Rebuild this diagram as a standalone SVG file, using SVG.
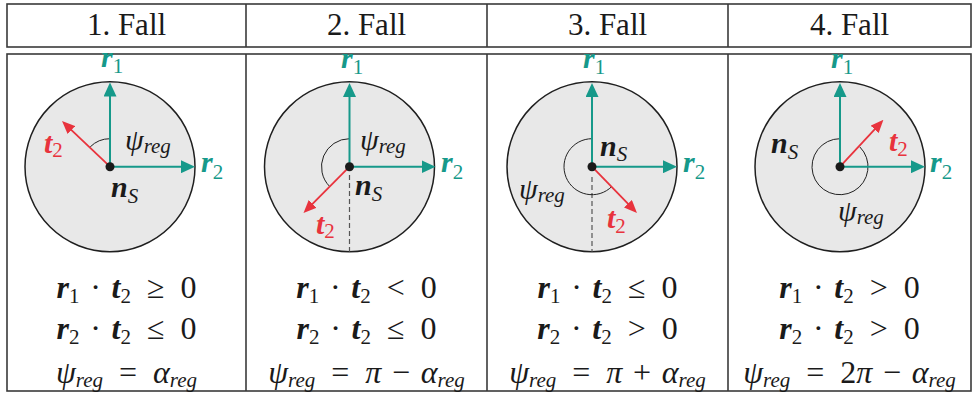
<svg xmlns="http://www.w3.org/2000/svg" width="974" height="396" viewBox="0 0 974 396">
<defs>
<style>
.frame{fill:none;stroke:#3a3a3a;stroke-width:1.6}
.hdr{font-family:"Liberation Serif",serif;font-size:31px;fill:#1a1a1a;text-anchor:middle}
.disc{fill:#e8e8e8;stroke:#1f1f1f;stroke-width:1.5}
.dot{fill:#1a1a1a}
.teal{fill:#16998a}
.red{fill:#e8333d}
.blk{fill:#1a1a1a}
.va{fill:none;stroke:#16998a;stroke-width:2}
.vr{fill:none;stroke:#e8333d;stroke-width:1.8}
.arc{fill:none;stroke:#222;stroke-width:1}
.dash{fill:none;stroke:#555;stroke-width:1.2;stroke-dasharray:5 3}
.lab{font-family:"Liberation Serif",serif;font-size:30px}
.v{font-weight:bold;font-style:italic}
.s{font-size:21px;font-style:normal;font-weight:normal}
.si{font-size:21px;font-style:italic;font-weight:normal}
.gi{font-style:italic}
.m{font-family:"Liberation Serif",serif;font-size:32px;fill:#1a1a1a;text-anchor:middle;white-space:pre}
.ms{font-size:21px;font-style:normal;font-weight:normal}
.msi{font-size:21px;font-style:italic;font-weight:normal}
</style>
<marker id="ht" markerUnits="userSpaceOnUse" markerWidth="14" markerHeight="13" refX="10" refY="6.5" orient="auto"><path d="M0,0 L14,6.5 L0,13 z" fill="#16998a"/></marker>
<marker id="hr" markerUnits="userSpaceOnUse" markerWidth="13" markerHeight="11" refX="9" refY="5.5" orient="auto"><path d="M0,0 L13,5.5 L0,11 z" fill="#e8333d"/></marker>
</defs>
<rect width="974" height="396" fill="#fff"/>

<g id="table">
<rect class="frame" x="7" y="4" width="964" height="43"/>
<line class="frame" x1="246" y1="4" x2="246" y2="47"/>
<line class="frame" x1="487" y1="4" x2="487" y2="47"/>
<line class="frame" x1="728" y1="4" x2="728" y2="47"/>
<rect class="frame" x="7" y="54" width="964" height="337"/>
<line class="frame" x1="246" y1="54" x2="246" y2="391"/>
<line class="frame" x1="487" y1="54" x2="487" y2="391"/>
<line class="frame" x1="728" y1="54" x2="728" y2="391"/>
<text class="hdr" x="126.5" y="35">1. Fall</text>
<text class="hdr" x="366.5" y="35">2. Fall</text>
<text class="hdr" x="607.5" y="35">3. Fall</text>
<text class="hdr" x="849.5" y="35">4. Fall</text>
</g>

<g id="fall1">
<circle class="disc" cx="110" cy="166.7" r="85"/>
<path class="arc" d="M110,138.7 A28,28 0 0 0 90.2,146.9"/>
<text class="lab blk" x="125" y="150"><tspan class="gi">ψ</tspan><tspan class="si" dy="3">reg</tspan></text>
<text class="lab teal" x="101" y="67"><tspan class="v">r</tspan><tspan class="s" dy="6">1</tspan></text>
<text class="lab teal" x="201" y="172"><tspan class="v">r</tspan><tspan class="s" dy="7">2</tspan></text>
<text class="lab red" x="44" y="153"><tspan class="v">t</tspan><tspan class="s" dy="4">2</tspan></text>
<text class="lab blk" x="111" y="197"><tspan class="v">n</tspan><tspan class="si" dy="6">S</tspan></text>
</g>

<g id="fall2">
<circle class="disc" cx="349.5" cy="166.7" r="85"/>
<line class="dash" x1="349.5" y1="175" x2="349.5" y2="251.7"/>
<path class="arc" d="M349.5,138.7 A28,28 0 0 0 329.7,186.5"/>
<text class="lab blk" x="360" y="150"><tspan class="gi">ψ</tspan><tspan class="si" dy="3">reg</tspan></text>
<text class="lab teal" x="341" y="68"><tspan class="v">r</tspan><tspan class="s" dy="6">1</tspan></text>
<text class="lab teal" x="441" y="172"><tspan class="v">r</tspan><tspan class="s" dy="7">2</tspan></text>
<text class="lab red" x="316" y="234"><tspan class="v">t</tspan><tspan class="s" dy="4">2</tspan></text>
<text class="lab blk" x="355" y="195"><tspan class="v">n</tspan><tspan class="si" dy="6">S</tspan></text>
</g>

<g id="fall3">
<circle class="disc" cx="592" cy="166.7" r="85"/>
<line class="dash" x1="592" y1="177" x2="592" y2="251.7"/>
<path class="arc" d="M592,138.7 A28,28 0 1 0 611.8,186.5"/>
<text class="lab blk" x="519" y="199"><tspan class="gi">ψ</tspan><tspan class="si" dy="3">reg</tspan></text>
<text class="lab teal" x="583" y="68"><tspan class="v">r</tspan><tspan class="s" dy="6">1</tspan></text>
<text class="lab teal" x="683" y="172"><tspan class="v">r</tspan><tspan class="s" dy="7">2</tspan></text>
<text class="lab red" x="607" y="228"><tspan class="v">t</tspan><tspan class="s" dy="5">2</tspan></text>
<text class="lab blk" x="600" y="156"><tspan class="v">n</tspan><tspan class="si" dy="5">S</tspan></text>
</g>

<g id="fall4">
<circle class="disc" cx="840" cy="166.7" r="85"/>
<path class="arc" d="M840,138.7 A28,28 0 1 0 859.8,146.9"/>
<text class="lab blk" x="838" y="221"><tspan class="gi">ψ</tspan><tspan class="si" dy="3">reg</tspan></text>
<text class="lab teal" x="831" y="68"><tspan class="v">r</tspan><tspan class="s" dy="6">1</tspan></text>
<text class="lab teal" x="930" y="172"><tspan class="v">r</tspan><tspan class="s" dy="7">2</tspan></text>
<text class="lab red" x="889" y="151"><tspan class="v">t</tspan><tspan class="s" dy="5">2</tspan></text>
<text class="lab blk" x="771" y="153"><tspan class="v">n</tspan><tspan class="si" dy="6">S</tspan></text>
</g>

<g id="connectors">
<line class="va" x1="110" y1="166.7" x2="110" y2="86.5" marker-end="url(#ht)"/>
<line class="va" x1="110" y1="166.7" x2="191" y2="166.7" marker-end="url(#ht)"/>
<line class="vr" x1="110" y1="166.7" x2="64.9" y2="123.8" marker-end="url(#hr)"/>
<line class="va" x1="349.5" y1="166.7" x2="349.5" y2="87" marker-end="url(#ht)"/>
<line class="va" x1="349.5" y1="166.7" x2="431.5" y2="166.7" marker-end="url(#ht)"/>
<line class="vr" x1="349.5" y1="166.7" x2="306.3" y2="210.2" marker-end="url(#hr)"/>
<line class="va" x1="592" y1="166.7" x2="592" y2="87" marker-end="url(#ht)"/>
<line class="va" x1="592" y1="166.7" x2="673" y2="166.7" marker-end="url(#ht)"/>
<line class="vr" x1="592" y1="166.7" x2="634.2" y2="210.2" marker-end="url(#hr)"/>
<line class="va" x1="840" y1="166.7" x2="840" y2="87" marker-end="url(#ht)"/>
<line class="va" x1="840" y1="166.7" x2="921" y2="166.7" marker-end="url(#ht)"/>
<line class="vr" x1="840" y1="166.7" x2="880.7" y2="122.8" marker-end="url(#hr)"/>
<circle class="dot" cx="110" cy="166.7" r="4.5"/>
<circle class="dot" cx="349.5" cy="166.7" r="4.5"/>
<circle class="dot" cx="592" cy="166.7" r="4.5"/>
<circle class="dot" cx="840" cy="166.7" r="4.5"/>
</g>

<g id="conditions">
<text class="m" x="126.5" y="298"><tspan class="v">r</tspan><tspan class="ms" dy="5">1</tspan><tspan dy="-5">&#8196;·&#8196;</tspan><tspan class="v">t</tspan><tspan class="ms" dy="5">2</tspan><tspan dy="-5">&#8194;≥&#8194;0</tspan></text>
<text class="m" x="126.5" y="339"><tspan class="v">r</tspan><tspan class="ms" dy="5">2</tspan><tspan dy="-5">&#8196;·&#8196;</tspan><tspan class="v">t</tspan><tspan class="ms" dy="5">2</tspan><tspan dy="-5">&#8194;≤&#8194;0</tspan></text>
<text class="m" x="126.5" y="383"><tspan class="gi">ψ</tspan><tspan class="msi" dy="4">reg</tspan><tspan dy="-4">&#8194;=&#8194;</tspan><tspan class="gi">α</tspan><tspan class="msi" dy="4">reg</tspan></text>

<text class="m" x="366.5" y="298"><tspan class="v">r</tspan><tspan class="ms" dy="5">1</tspan><tspan dy="-5">&#8196;·&#8196;</tspan><tspan class="v">t</tspan><tspan class="ms" dy="5">2</tspan><tspan dy="-5">&#8194;&lt;&#8194;0</tspan></text>
<text class="m" x="366.5" y="339"><tspan class="v">r</tspan><tspan class="ms" dy="5">2</tspan><tspan dy="-5">&#8196;·&#8196;</tspan><tspan class="v">t</tspan><tspan class="ms" dy="5">2</tspan><tspan dy="-5">&#8194;≤&#8194;0</tspan></text>
<text class="m" x="366.5" y="383"><tspan class="gi">ψ</tspan><tspan class="msi" dy="4">reg</tspan><tspan dy="-4">&#8194;=&#8194;</tspan><tspan class="gi">π</tspan><tspan>&#8196;−&#8196;</tspan><tspan class="gi">α</tspan><tspan class="msi" dy="4">reg</tspan></text>

<text class="m" x="607.5" y="298"><tspan class="v">r</tspan><tspan class="ms" dy="5">1</tspan><tspan dy="-5">&#8196;·&#8196;</tspan><tspan class="v">t</tspan><tspan class="ms" dy="5">2</tspan><tspan dy="-5">&#8194;≤&#8194;0</tspan></text>
<text class="m" x="607.5" y="339"><tspan class="v">r</tspan><tspan class="ms" dy="5">2</tspan><tspan dy="-5">&#8196;·&#8196;</tspan><tspan class="v">t</tspan><tspan class="ms" dy="5">2</tspan><tspan dy="-5">&#8194;&gt;&#8194;0</tspan></text>
<text class="m" x="607.5" y="383"><tspan class="gi">ψ</tspan><tspan class="msi" dy="4">reg</tspan><tspan dy="-4">&#8194;=&#8194;</tspan><tspan class="gi">π</tspan><tspan>&#8196;+&#8196;</tspan><tspan class="gi">α</tspan><tspan class="msi" dy="4">reg</tspan></text>

<text class="m" x="849.5" y="298"><tspan class="v">r</tspan><tspan class="ms" dy="5">1</tspan><tspan dy="-5">&#8196;·&#8196;</tspan><tspan class="v">t</tspan><tspan class="ms" dy="5">2</tspan><tspan dy="-5">&#8194;&gt;&#8194;0</tspan></text>
<text class="m" x="849.5" y="339"><tspan class="v">r</tspan><tspan class="ms" dy="5">2</tspan><tspan dy="-5">&#8196;·&#8196;</tspan><tspan class="v">t</tspan><tspan class="ms" dy="5">2</tspan><tspan dy="-5">&#8194;&gt;&#8194;0</tspan></text>
<text class="m" x="849.5" y="383"><tspan class="gi">ψ</tspan><tspan class="msi" dy="4">reg</tspan><tspan dy="-4">&#8194;=&#8194;2</tspan><tspan class="gi">π</tspan><tspan>&#8196;−&#8196;</tspan><tspan class="gi">α</tspan><tspan class="msi" dy="4">reg</tspan></text>
</g>
</svg>
